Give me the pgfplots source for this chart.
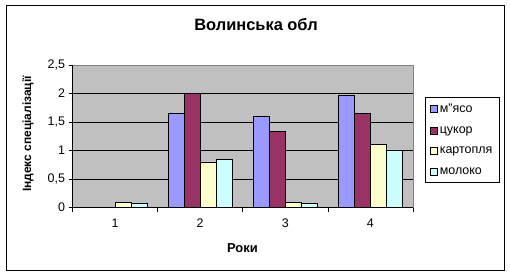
\documentclass[border=0pt]{standalone}
\usepackage{fontspec}
\setmainfont{Liberation Sans}
\usepackage{pgfplots}
\pgfplotsset{compat=1.18}
\definecolor{cm}{RGB}{153,153,255}
\definecolor{cc}{RGB}{153,51,102}
\definecolor{ck}{RGB}{255,255,204}
\definecolor{cmo}{RGB}{204,255,255}
\definecolor{bg}{RGB}{192,192,192}
\definecolor{bd}{RGB}{128,128,128}
\begin{document}
\begin{tikzpicture}[x=1bp,y=1bp]
\useasboundingbox (0,0) rectangle (510,276);
\draw[black, line width=0.8bp] (6,5.5) rectangle (504,271);
\begin{axis}[
  scale only axis, width=340.5bp, height=142.5bp,
  at={(72.5bp,68.5bp)}, anchor=south west,
  xmin=0.5, xmax=4.5, ymin=0, ymax=2.5,
  ytick={0,0.5,1,1.5,2,2.5},
  xtick={0.5,1.5,2.5,3.5,4.5}, xticklabels={},
  extra x ticks={1,2,3,4}, extra x tick labels={1,2,3,4},
  extra x tick style={tick style={draw=none}, grid=none,
    xticklabel style={yshift=-4bp}},
  ybar=0pt, bar width=16bp,
  ymajorgrids, grid style={black, line width=0.6bp},
  axis background/.style={fill=bg},
  axis line style={draw=bd, line width=0.6bp},
  tick align=outside, major tick length=4bp,
  xtick pos=bottom, ytick pos=left,
  tick style={black, line width=0.6bp},
  /pgf/number format/assume math mode=true,
  /pgf/number format/use comma,
  yticklabel style={font=\fontsize{12.5}{14}\selectfont, /pgf/number format/fixed},
  xticklabel style={font=\fontsize{12.5}{14}\selectfont},
  legend style={at={(1.035,0.775)}, anchor=north west, draw=black, line width=0.6bp,
    inner xsep=5bp, inner ysep=4.5bp, font=\fontsize{12.5}{14}\selectfont,
    row sep=8.5bp},
  legend cell align=left,
  legend image code/.code={\draw[#1, draw=black, line width=0.6bp] (0bp,-3.5bp) rectangle (7bp,3.5bp);},
]
\addplot[fill=cm, draw=black, line width=0.6bp] coordinates {(1,0) (2,1.65) (3,1.60) (4,1.97)};
\addplot[fill=cc, draw=black, line width=0.6bp] coordinates {(1,0) (2,2.00) (3,1.34) (4,1.65)};
\addplot[fill=ck, draw=black, line width=0.6bp] coordinates {(1,0.09) (2,0.80) (3,0.09) (4,1.11)};
\addplot[fill=cmo, draw=black, line width=0.6bp] coordinates {(1,0.07) (2,0.85) (3,0.07) (4,1.01)};
\legend{м"ясо, цукор, картопля, молоко}
\end{axis}
\draw[black, line width=0.8bp] (72.5,211) -- (72.5,68.5) -- (413,68.5);
\node[font=\bfseries\fontsize{16.5}{18}\selectfont] at (256,251) {Волинська обл};
\node[font=\bfseries\fontsize{13}{15}\selectfont] at (242.5,28) {Роки};
\node[rotate=90, font=\bfseries\fontsize{12}{14}\selectfont] at (28,142) {Індекс спеціалізації};
\end{tikzpicture}
\end{document}
